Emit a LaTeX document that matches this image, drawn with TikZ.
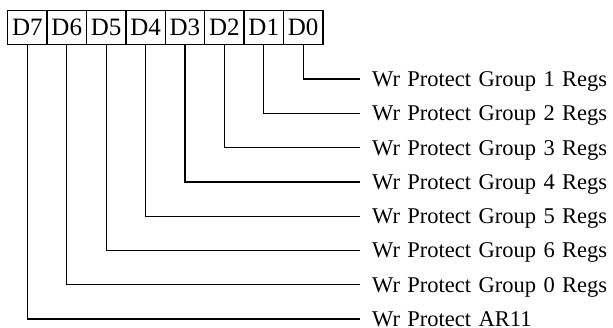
\documentclass[tikz,border=0pt]{standalone}
\usepackage{fontspec}
\setmainfont{Liberation Serif}
\newfontfamily\lblfont[WordSpace=1.32]{Liberation Serif}
\begin{document}
\begin{tikzpicture}[x=1pt,y=-1pt,
  bitbox/.style={draw,line width=1.3pt,minimum width=39.4pt,minimum height=34pt,inner sep=0pt,anchor=north west,font=\fontsize{25}{29}\selectfont},
  lbl/.style={anchor=base west,inner sep=0pt,font=\lblfont\fontsize{22.5}{27}\selectfont},
  wire/.style={line width=1.3pt}]
\useasboundingbox (0,0) rectangle (613,328);
\foreach \i/\n in {0/7,1/6,2/5,3/4,4/3,5/2,6/1,7/0}{
  \node[bitbox] (b\n) at (7+\i*39.4,10) {D\n};
}
\foreach \k/\b/\t in {0/0/Wr Protect Group 1 Regs,1/1/Wr Protect Group 2 Regs,2/2/Wr Protect Group 3 Regs,3/3/Wr Protect Group 4 Regs,4/4/Wr Protect Group 5 Regs,5/5/Wr Protect Group 6 Regs,6/6/Wr Protect Group 0 Regs,7/7/Wr Protect AR11}{
  \coordinate (e\b) at (360,79+\k*34.29);
  \node[lbl] (l\b) at (372,86.5+\k*34.29) {\t};
  \draw[wire] (b\b.south) |- (e\b);
}
\end{tikzpicture}
\end{document}
